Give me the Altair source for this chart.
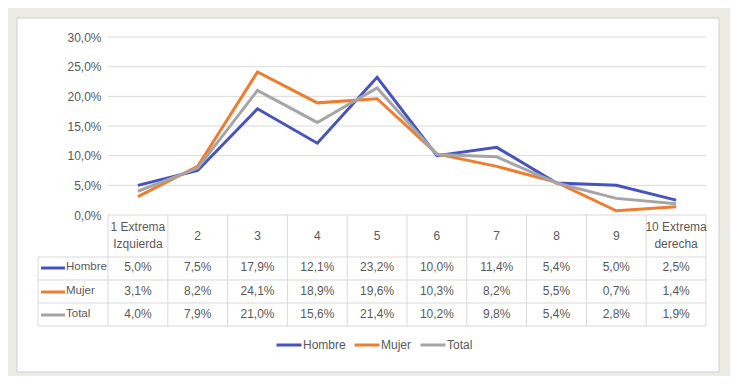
import altair as alt
import pandas as pd

# ---------------- data ----------------
cat_keys = ["1", "2", "3", "4", "5", "6", "7", "8", "9", "10"]
cat_labels = ["1 Extrema\nIzquierda", "2", "3", "4", "5", "6", "7", "8", "9", "10 Extrema\nderecha"]
series = ["Hombre", "Mujer", "Total"]
hombre = [5.0, 7.5, 17.9, 12.1, 23.2, 10.0, 11.4, 5.4, 5.0, 2.5]
mujer = [3.1, 8.2, 24.1, 18.9, 19.6, 10.3, 8.2, 5.5, 0.7, 1.4]
total = [4.0, 7.9, 21.0, 15.6, 21.4, 10.2, 9.8, 5.4, 2.8, 1.9]
y_ticks = [0.0, 0.05, 0.10, 0.15, 0.20, 0.25, 0.30]
colors = ["#4753be", "#ed7d31", "#a5a5a5"]

FONT = "Liberation Sans, Arial, sans-serif"
FS = 12
TXT = "#595959"
GRID = "#d9d9d9"

W, H = 598, 178
STEP = W / len(cat_keys)

values = {"Hombre": hombre, "Mujer": mujer, "Total": total}
rows = []
for s in series:
    for k, v in zip(cat_keys, values[s]):
        rows.append({"cat": k, "serie": s, "v": v / 100.0,
                     "lab": (f"{v:.1f}".replace(".", ",") + "%")})
df = pd.DataFrame(rows)
cats_df = pd.DataFrame({"cat": cat_keys, "label": cat_labels})
cats_df["multi"] = cats_df["label"].str.contains("\n")
ticks_df = pd.DataFrame({"t": y_ticks})
one = pd.DataFrame({"a": [0]})

xenc = alt.X("cat:N", sort=cat_keys, scale=alt.Scale(domain=cat_keys), axis=None)
yscale = alt.Scale(domain=[0, 0.30])
yaxis = alt.Axis(values=y_ticks, grid=False, domain=False, ticks=False,
                 labelExpr="replace(format(datum.value, '.1%'), '.', ',')",
                 labelFont=FONT, labelFontSize=FS, labelColor=TXT,
                 labelPadding=7, title=None, zindex=1)

# white panel
panel = alt.Chart(one).mark_rect(fill="white", stroke="#cfcfcf", strokeWidth=1).encode(
    x=alt.value(-91), x2=alt.value(611), y=alt.value(-19), y2=alt.value(335))

# gridlines
grid = alt.Chart(ticks_df).mark_rule(color=GRID, strokeWidth=1).encode(
    y=alt.Y("t:Q", scale=yscale, axis=yaxis),
    x=alt.value(0), x2=alt.value(W))

# table lines
vlines = alt.Chart(cats_df).mark_rule(color=GRID, strokeWidth=1, xOffset=-STEP / 2).encode(
    x=xenc, y=alt.value(H), y2=alt.value(289))
vright = alt.Chart(one).mark_rule(color=GRID, strokeWidth=1).encode(
    x=alt.value(W), y=alt.value(H), y2=alt.value(289))
vleft = alt.Chart(one).mark_rule(color=GRID, strokeWidth=1).encode(
    x=alt.value(-70), y=alt.value(220), y2=alt.value(289))
hlines = [alt.Chart(one).mark_rule(color=GRID, strokeWidth=1).encode(
    x=alt.value(-70), x2=alt.value(W), y=alt.value(yy)) for yy in [220, 243, 266, 289]]

# header
header1 = alt.Chart(cats_df).transform_filter("!datum.multi").mark_text(
    font=FONT, fontSize=FS, color=TXT, baseline="middle", align="center").encode(
    x=xenc, y=alt.value(199), text="label:N")
header2 = alt.Chart(cats_df).transform_filter("datum.multi").mark_text(
    font=FONT, fontSize=FS, color=TXT, lineBreak="\n", lineHeight=17,
    baseline="middle", align="center").encode(
    x=xenc, y=alt.value(190), text="label:N")

# lines
lines = alt.Chart(df).mark_line(strokeWidth=3).encode(
    x=xenc,
    y=alt.Y("v:Q", scale=yscale, axis=yaxis),
    color=alt.Color("serie:N", sort=series,
                    scale=alt.Scale(domain=series, range=colors),
                    legend=alt.Legend(orient="none", legendX=167, legendY=294,
                                      direction="horizontal", title=None,
                                      symbolType="stroke", symbolSize=625,
                                      symbolStrokeWidth=3, labelFont=FONT,
                                      labelFontSize=FS, labelColor=TXT,
                                      labelOffset=0, columnPadding=2)),
    order=alt.Order("cat_i:Q"),
).transform_calculate(cat_i="toNumber(datum.cat)")

# table values and row keys
row_y = {"Hombre": 230, "Mujer": 254, "Total": 277}
table_layers = []
for s, c in zip(series, colors):
    sub = df[df["serie"] == s]
    table_layers.append(alt.Chart(sub).mark_text(font=FONT, fontSize=FS, color=TXT,
                                                 baseline="middle", align="center").encode(
        x=xenc, y=alt.value(row_y[s]), text="lab:N"))
    key = pd.DataFrame({"serie": [s]})
    table_layers.append(alt.Chart(key).mark_rule(strokeWidth=3, color=c).encode(
        x=alt.value(-67), x2=alt.value(-43), y=alt.value(row_y[s] + 1)))
    table_layers.append(alt.Chart(key).mark_text(font=FONT, fontSize=11.5, color=TXT,
                                                 baseline="middle", align="left").encode(
        x=alt.value(-42), y=alt.value(row_y[s]), text="serie:N"))

chart = alt.layer(panel, grid, vlines, vright, vleft, *hlines, header1, header2,
                  *table_layers, lines).properties(
    width=W, height=H, background="#ecece4",
    padding={"left": 100, "top": 29, "right": 24, "bottom": 161},
    autosize=alt.AutoSizeParams(type="none"),
).configure_view(stroke=None)

chart.save("out.html", embed_options={"renderer": "svg", "actions": False})
